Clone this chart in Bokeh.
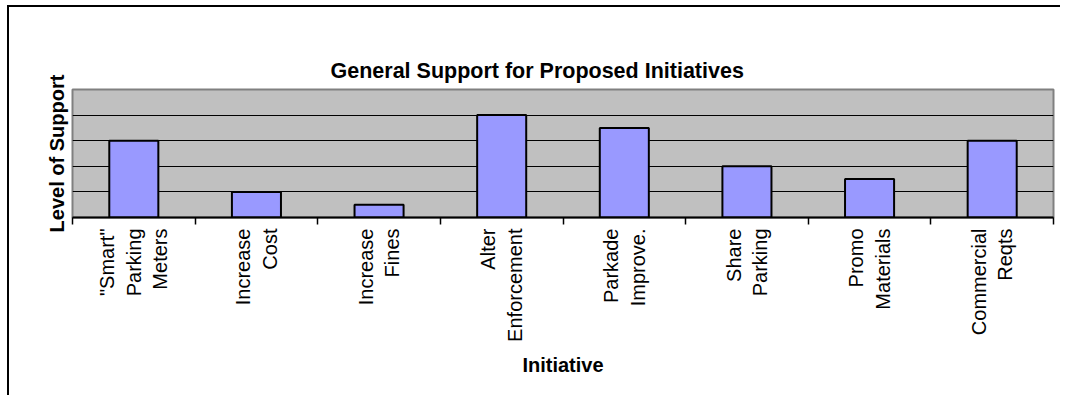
import math
from bokeh.plotting import figure
from bokeh.models import Range1d, LinearAxis, FixedTicker, Grid
from bokeh.embed import file_html
from bokeh.resources import INLINE

categories = ['"Smart"\nParking\nMeters', 'Increase\nCost', 'Increase\nFines',
              'Alter\nEnforcement', 'Parkade\nImprove.', 'Share\nParking',
              'Promo\nMaterials', 'Commercial\nReqts']
support = [3, 1, 0.5, 4, 3.5, 2, 1.5, 3]
grid_levels = [1, 2, 3, 4]
title_text = "General Support for Proposed Initiatives"
x_label = "Initiative"
y_label = "Level of Support"

FONT = "Liberation Sans"
n = len(categories)
centers = [i + 0.5 for i in range(n)]
edges = list(range(n + 1))

p = figure(x_range=Range1d(0, n), y_range=Range1d(0, 5),
           width=1053, height=390, output_backend="svg", toolbar_location=None,
           x_axis_location=None, y_axis_location=None,
           min_border_left=63, min_border_right=9,
           min_border_top=82, min_border_bottom=180)

p.grid.visible = False
p.background_fill_color = "#C0C0C0"
p.border_fill_color = "white"
p.outline_line_color = "#808080"
p.outline_line_width = 2
p.styles = {"border-left": "2px solid black", "border-top": "2px solid black",
            "margin-left": "7px", "margin-top": "5px"}

p.title.text = title_text
p.title.text_font = FONT
p.title.text_font_size = "21.5px"
p.title.text_font_style = "bold"
p.title.text_color = "black"
p.title.align = "left"
p.title.offset = 258
p.title.standoff = 13

p.add_layout(Grid(dimension=1, ticker=FixedTicker(ticks=grid_levels),
                  grid_line_color="black", grid_line_width=1))

yax = LinearAxis(ticker=FixedTicker(ticks=[]), axis_label=y_label,
                 axis_line_color=None, major_tick_line_color=None,
                 minor_tick_line_color=None, major_label_text_font_size="0px",
                 axis_label_text_font=FONT, axis_label_text_font_size="20px",
                 axis_label_text_font_style="bold", axis_label_text_color="black",
                 axis_label_standoff=5)
p.add_layout(yax, "left")

xax = LinearAxis(ticker=FixedTicker(ticks=centers, minor_ticks=edges),
                 major_label_overrides={c: lab for c, lab in zip(centers, categories)},
                 axis_label=x_label,
                 axis_line_color="black", axis_line_width=2,
                 major_tick_line_color=None,
                 minor_tick_in=0, minor_tick_out=7, minor_tick_line_color="black",
                 minor_tick_line_width=1.5,
                 major_label_orientation=math.pi / 2,
                 major_label_text_font=FONT, major_label_text_font_size="20px",
                 major_label_text_color="black",
                 major_label_standoff=4,
                 axis_label_text_font=FONT, axis_label_text_font_size="20px",
                 axis_label_text_font_style="bold", axis_label_text_color="black",
                 axis_label_standoff=9)
p.add_layout(xax, "below")

p.vbar(x=centers, top=support, width=0.4, fill_color="#9999FF",
       line_color="black", line_width=2)

open("out.html", "w").write(file_html(p, INLINE))
